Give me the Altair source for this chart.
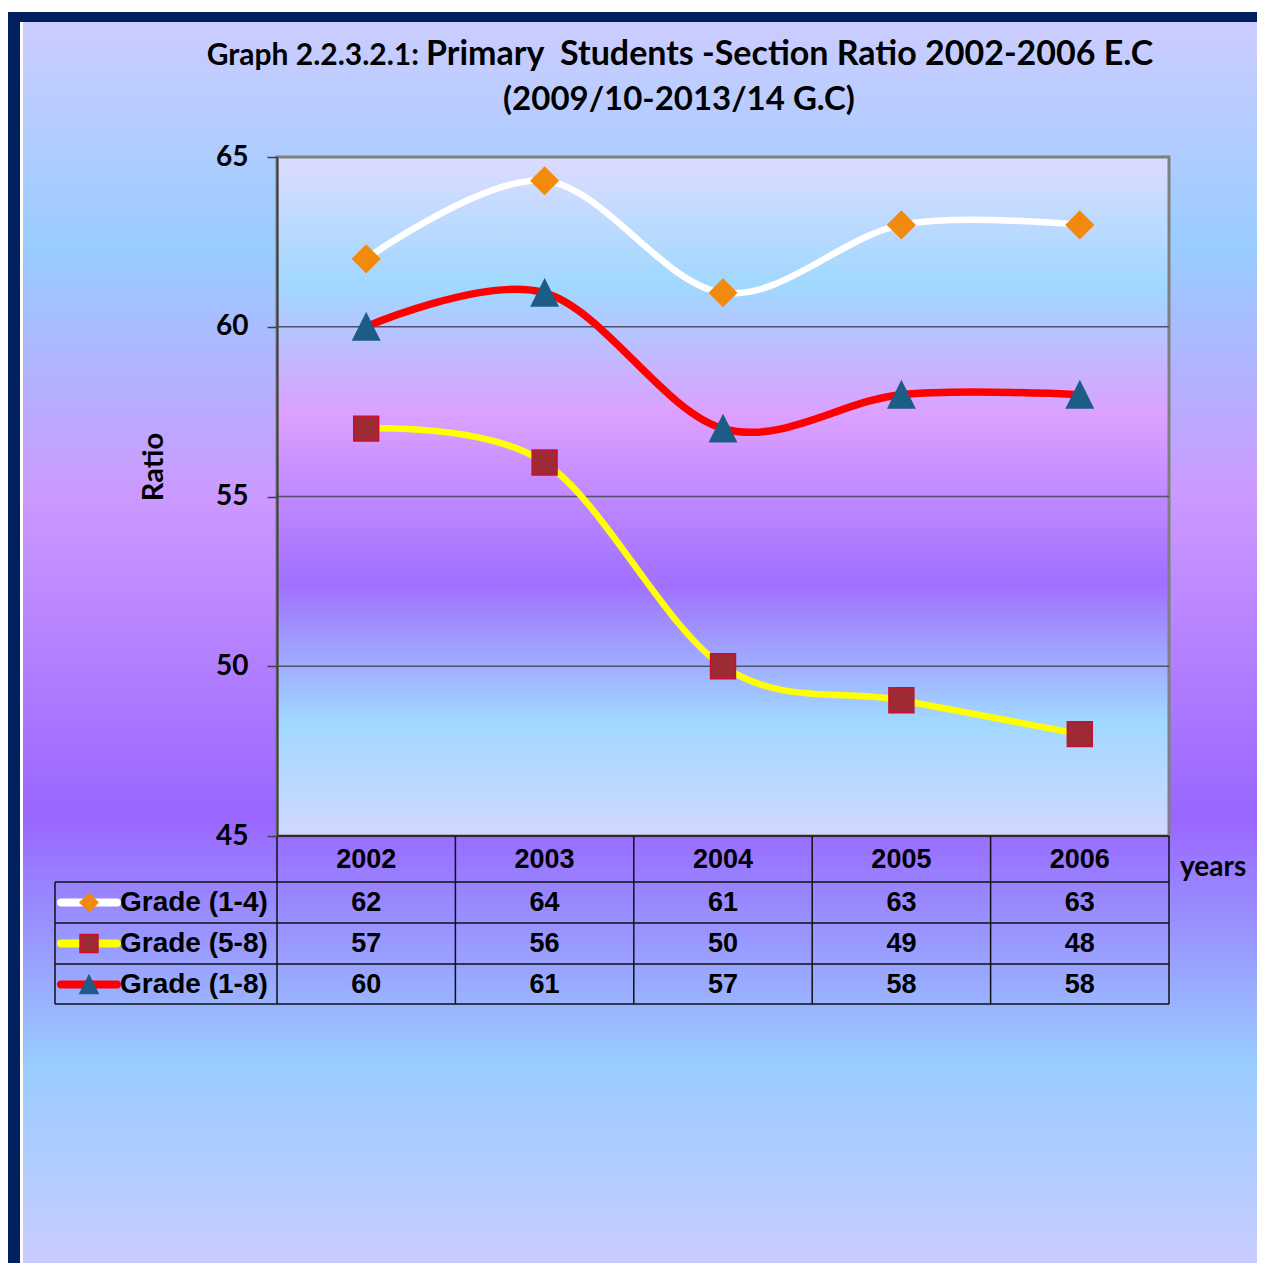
import altair as alt
import pandas as pd

# ---------------- data ----------------
years = ["2002", "2003", "2004", "2005", "2006"]
series_names = ["Grade (1-4)", "Grade (5-8)", "Grade (1-8)"]
grade_1_4 = [62, 64.3, 61, 63, 63]
grade_5_8 = [57, 56, 50, 49, 48]
grade_1_8 = [60, 61, 57, 58, 58]
y_ticks = [45, 50, 55, 60, 65]
grid_values = [50, 55, 60]

title_part1 = "Graph 2.2.3.2.1:"
title_part2 = "Primary\u00a0 Students -Section Ratio 2002-2006 E.C"
title_line2 = "(2009/10-2013/14 G.C)"
y_title = "Ratio"
x_title = "years"

# ---------------- layout ----------------
W, H = 892, 679          # plot area
PAD_L, PAD_T = 269, 149  # plot origin on page = (277, 157)
CANVAS_W, CANVAS_H = 1249, 1255
PAD_R = CANVAS_W - PAD_L - W
PAD_B = CANVAS_H - PAD_T - H

values_by_series = [grade_1_4, grade_5_8, grade_1_8]
line_colors = ["#FFFFFF", "#FFFF00", "#FF0000"]
line_widths = [6.5, 6.5, 7.5]
shapes = ["diamond", "square", "M0,-1L1,1L-1,1Z"]
fills = ["#F28A0E", "#9E2A36", "#1D5C86"]
strokes = ["#F28A0E", "#C8102E", "#1D5C86"]
sizes = [729, 620, 700]
legend_sizes = [320, 324, 330]

rows = []
for name, vals in zip(series_names, values_by_series):
    for yr, v in zip(years, vals):
        rows.append({"series": name, "year": yr, "value": v})
df = pd.DataFrame(rows)
one = pd.DataFrame({"k": [0]})

FONT_T = "Lato"
FONT_A = "Liberation Sans"

x_scale = alt.Scale(type="point", padding=0.5, domain=years)
y_scale = alt.Scale(domain=[45, 65], nice=False, zero=False)
y_axis = alt.Axis(
    values=y_ticks, title=None, grid=False, zindex=1,
    domainColor="#404040", domainWidth=2,
    tickColor="#404040", tickWidth=1.5, tickSize=10,
    labelFont=FONT_T, labelFontSize=28, labelFontWeight="bold",
    labelColor="#000000", labelPadding=19,
)


def grad(stops):
    return alt.LinearGradient(
        gradient="linear", x1=0, y1=0, x2=0, y2=1,
        stops=[alt.GradientStop(color=c, offset=o) for o, c in stops],
    )


def vrect(x, y, x2, y2, **kw):
    return alt.Chart(one).mark_rect(**kw).encode(
        x=alt.value(x), y=alt.value(y), x2=alt.value(x2), y2=alt.value(y2)
    )


outer_grad = grad([(0, "#CCCCFF"), (0.183, "#99CCFF"), (0.38, "#CC99FF"),
                   (0.636, "#9966FF"), (0.834, "#99CCFF"), (1, "#CCCCFF")])
plot_grad = grad([(0, "#DCDCFF"), (0.19, "#A0D8FF"), (0.38, "#DCA0FF"),
                  (0.63, "#A070FF"), (0.83, "#A0D8FF"), (1, "#D2D8FF")])

layers = []
# frame and backgrounds
layers.append(vrect(-270, -145, 1000, 1130, fill="#002060"))
layers.append(vrect(-257, -135, 1000, 1115, fill="#FFFFFF"))
layers.append(vrect(-254, -135, 1000, 1115, fill=outer_grad))
layers.append(vrect(0, 0, W, H, fill=plot_grad))
# plot border (gray top / right)
layers.append(vrect(0, 0, W, H, fill="transparent", stroke="#7F7F7F", strokeWidth=3))

# gridlines (carries the y axis)
grid_df = pd.DataFrame({"value": grid_values})
layers.append(
    alt.Chart(grid_df).mark_rule(color="#50506A", strokeWidth=1.5).encode(
        y=alt.Y("value:Q", scale=y_scale, axis=y_axis),
        x=alt.value(0), x2=alt.value(W),
    )
)

# data table lines
row_lines = [725, 766, 807, 847]   # page 882, 923, 963.5, 1004
table_left = 55 - 277
layers.append(
    alt.Chart(one).mark_rule(color="#111111", strokeWidth=1.5).encode(
        x=alt.value(0), x2=alt.value(W), y=alt.value(H)
    )
)
for ry in row_lines:
    layers.append(
        alt.Chart(one).mark_rule(color="#111111", strokeWidth=1.5).encode(
            x=alt.value(table_left), x2=alt.value(W), y=alt.value(ry)
        )
    )
layers.append(
    alt.Chart(one).mark_rule(color="#111111", strokeWidth=1.5).encode(
        x=alt.value(table_left), y=alt.value(row_lines[0]), y2=alt.value(row_lines[-1])
    )
)
for i in range(len(years) + 1):
    layers.append(
        alt.Chart(one).mark_rule(color="#111111", strokeWidth=1.5).encode(
            x=alt.value(i * W / len(years)), y=alt.value(H), y2=alt.value(row_lines[-1])
        )
    )

# series lines and markers
for name, lc, lw in zip(series_names, line_colors, line_widths):
    sub = df[df["series"] == name]
    layers.append(
        alt.Chart(sub).mark_line(color=lc, strokeWidth=lw, interpolate="cardinal",
                                 strokeCap="round").encode(
            x=alt.X("year:O", scale=x_scale, axis=None),
            y=alt.Y("value:Q", scale=y_scale, axis=y_axis),
        )
    )
for name, sh, fc, sc, sz in zip(series_names, shapes, fills, strokes, sizes):
    sub = df[df["series"] == name]
    layers.append(
        alt.Chart(sub).mark_point(shape=sh, filled=True, fill=fc, stroke=sc,
                                  strokeWidth=1.5, size=sz, opacity=1).encode(
            x=alt.X("year:O", scale=x_scale, axis=None),
            y=alt.Y("value:Q", scale=y_scale, axis=y_axis),
        )
    )

# table header (years)
year_df = pd.DataFrame({"year": years})
layers.append(
    alt.Chart(year_df).mark_text(font=FONT_A, fontSize=27, fontWeight="bold",
                                 color="#000000", baseline="middle").encode(
        x=alt.X("year:O", scale=x_scale, axis=None),
        y=alt.value(703),
        text="year:N",
    )
)
# table values and legend keys
row_centers = [745.5, 786.5, 827.5]
for i, (name, yc) in enumerate(zip(series_names, row_centers)):
    sub = df[df["series"] == name]
    layers.append(
        alt.Chart(sub).mark_text(font=FONT_A, fontSize=27, fontWeight="bold",
                                 color="#000000", baseline="middle").encode(
            x=alt.X("year:O", scale=x_scale, axis=None),
            y=alt.value(yc),
            text=alt.Text("value:Q", format=".0f"),
        )
    )
    layers.append(
        alt.Chart(one).mark_rule(color=line_colors[i], strokeWidth=8, strokeCap="round").encode(
            x=alt.value(61 - 277), x2=alt.value(117 - 277), y=alt.value(yc)
        )
    )
    layers.append(
        alt.Chart(one).mark_point(shape=shapes[i], filled=True, fill=fills[i],
                                  stroke=strokes[i], strokeWidth=1.5,
                                  size=legend_sizes[i], opacity=1).encode(
            x=alt.value(89 - 277), y=alt.value(yc)
        )
    )
    layers.append(
        alt.Chart(pd.DataFrame({"t": [name]})).mark_text(
            font=FONT_A, fontSize=28, fontWeight="bold", color="#000000",
            align="left", baseline="middle").encode(
            x=alt.value(120 - 277), y=alt.value(yc), text="t:N"
        )
    )


def label(txt, x, y, size, align="left", baseline="alphabetic", angle=0, font=FONT_T):
    kw = dict(font=font, fontSize=size, fontWeight="bold", color="#000000",
              align=align, baseline=baseline)
    if angle:
        kw["angle"] = angle
    return alt.Chart(pd.DataFrame({"t": [txt]})).mark_text(**kw).encode(
        x=alt.value(x), y=alt.value(y), text="t:N"
    )


layers.append(label(title_part1, 419 - 277, 65 - 157, 30, align="right"))
layers.append(label(title_part2, 426 - 277, 65 - 157, 34, align="left"))
layers.append(label(title_line2, 679 - 277, 110 - 157, 33, align="center"))
layers.append(label(x_title, 1180 - 277, 876 - 157, 28, align="left"))
layers.append(label(y_title, 163 - 277, 467 - 157, 29, align="center", angle=270))

chart = alt.layer(*layers).properties(
    width=W, height=H,
    autosize=alt.AutoSizeParams(type="none"),
    padding={"left": PAD_L, "top": PAD_T, "right": PAD_R, "bottom": PAD_B},
).configure_view(stroke=None)

chart.save("out.html", embed_options={"renderer": "svg", "actions": False})
